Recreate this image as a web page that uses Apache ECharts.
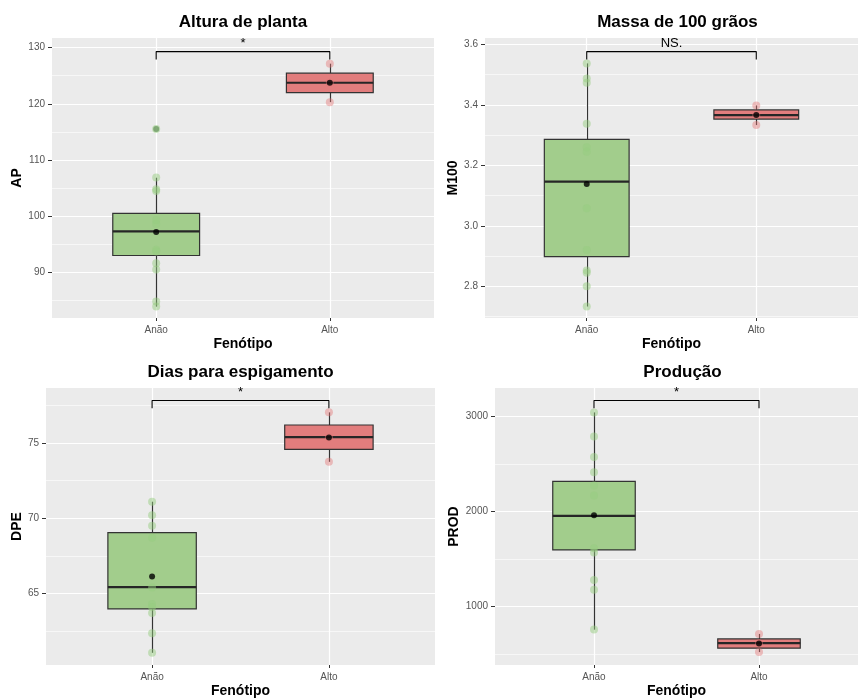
<!DOCTYPE html>
<html>
<head>
<meta charset="utf-8">
<script src="https://cdn.jsdelivr.net/npm/echarts@6/dist/echarts.min.js"></script>
<style>
  html, body { margin: 0; padding: 0; background: #ffffff; }
  #chart { width: 858px; height: 699px; }
</style>
</head>
<body>
<div id="chart"></div>
<script>
// Groups on the x axis and the shared axis title
const categories = ['Anão', 'Alto'];
const xTitle = 'Fenótipo';

// Altura de planta (AP)
const apAnao = [115.5, 106.9, 104.8, 104.5, 99.3, 98.6, 94.0, 93.7, 91.6, 90.5, 84.8, 83.9];
const apAlto = [127.15, 123.75, 120.3];
const apBox = [[83.9, 93.0, 97.3, 100.5, 106.85], [120.3, 122.0, 123.75, 125.45, 127.15]]; // low, Q1, median, Q3, high
const apMean = [97.2, 123.75];
const apOutAnao = [115.5];
const apOutAlto = [];
const apBracket = [127.9, 129.3]; // tip, top
const apSig = '*';
const apTicks = [90, 100, 110, 120, 130];
const apMinor = [85, 95, 105, 115, 125];

// Massa de 100 grãos (M100)
const m100Anao = [3.537, 3.487, 3.473, 3.337, 3.26, 3.245, 3.058, 2.92, 2.852, 2.845, 2.80, 2.733];
const m100Alto = [3.398, 3.366, 3.333];
const m100Box = [[2.733, 2.898, 3.146, 3.286, 3.537], [3.333, 3.353, 3.366, 3.383, 3.398]];
const m100Mean = [3.138, 3.366];
const m100OutAnao = [];
const m100OutAlto = [];
const m100Bracket = [3.550, 3.576];
const m100Sig = 'NS.';
const m100Ticks = [2.8, 3.0, 3.2, 3.4, 3.6];
const m100Minor = [2.7, 2.9, 3.1, 3.3, 3.5];

// Dias para espigamento (DPE)
const dpeAnao = [71.1, 70.2, 69.5, 68.7, 65.4, 64.3, 64.1, 63.7, 62.35, 61.05];
const dpeAlto = [77.04, 75.39, 73.75];
const dpeBox = [[61.05, 63.97, 65.42, 69.04, 71.1], [73.75, 74.58, 75.39, 76.2, 77.04]];
const dpeMean = [66.12, 75.37];
const dpeOutAnao = [];
const dpeOutAlto = [];
const dpeBracket = [77.32, 77.83];
const dpeSig = '*';
const dpeTicks = [65, 70, 75];
const dpeMinor = [62.5, 67.5, 72.5, 77.5];

// Produção (PROD)
const prodAnao = [3045, 2790, 2576, 2415, 2274, 2170, 1615, 1570, 1280, 1178, 760];
const prodAlto = [712, 615, 521];
const prodBox = [[757, 1597, 1955, 2319, 3045], [521, 562, 615, 660, 712]];
const prodMean = [1962, 611];
const prodOutAnao = [];
const prodOutAlto = [];
const prodBracket = [3090, 3170];
const prodSig = '*';
const prodTicks = [1000, 2000, 3000];
const prodMinor = [500, 1500, 2500];

const panels = [
  { title: 'Altura de planta', yName: 'AP', box: apBox, mean: apMean, groups: [apAnao, apAlto], outliers: [apOutAnao, apOutAlto], bracket: apBracket, sig: apSig, ticks: apTicks, minor: apMinor, decimals: 0 },
  { title: 'Massa de 100 grãos', yName: 'M100', box: m100Box, mean: m100Mean, groups: [m100Anao, m100Alto], outliers: [m100OutAnao, m100OutAlto], bracket: m100Bracket, sig: m100Sig, ticks: m100Ticks, minor: m100Minor, decimals: 1 },
  { title: 'Dias para espigamento', yName: 'DPE', box: dpeBox, mean: dpeMean, groups: [dpeAnao, dpeAlto], outliers: [dpeOutAnao, dpeOutAlto], bracket: dpeBracket, sig: dpeSig, ticks: dpeTicks, minor: dpeMinor, decimals: 0 },
  { title: 'Produção', yName: 'PROD', box: prodBox, mean: prodMean, groups: [prodAnao, prodAlto], outliers: [prodOutAnao, prodOutAlto], bracket: prodBracket, sig: prodSig, ticks: prodTicks, minor: prodMinor, decimals: 0 }
];

// Panel placement and y ranges
const layout = [
  { left: 52, top: 38, width: 382, height: 280, yMin: 81.87, yMax: 131.72, nameGap: 25 },
  { left: 485, top: 38, width: 385, height: 280, yMin: 2.695, yMax: 3.621, nameGap: 24 },
  { left: 46, top: 388, width: 389, height: 280, yMin: 60.24, yMax: 78.66, nameGap: 19 },
  { left: 495, top: 388, width: 375, height: 280, yMin: 385, yMax: 3302, nameGap: 34 }
];

const FONT = '"Liberation Sans", Arial, sans-serif';
const BOX_FILL = ['#a2cd8c', '#e27d7d'];
const POINT_FILL = ['rgba(150, 205, 128, 0.62)', 'rgba(228, 118, 118, 0.55)'];
const OUTLIER_FILL = 'rgba(90, 140, 80, 0.8)';
const LINE = '#333333';
const BOX_WIDTH = 0.5;

function renderBox(params, api) {
  const x = api.value(0);
  const lo = api.coord([x, api.value(1)]);
  const q1 = api.coord([x, api.value(2)]);
  const md = api.coord([x, api.value(3)]);
  const q3 = api.coord([x, api.value(4)]);
  const hi = api.coord([x, api.value(5)]);
  const half = api.size([BOX_WIDTH, 0])[0] / 2;
  const cx = Math.round(md[0]) + 0.5;
  return {
    type: 'group',
    children: [
      { type: 'line', shape: { x1: cx, y1: lo[1], x2: cx, y2: q1[1] }, style: { stroke: LINE, lineWidth: 1.2 } },
      { type: 'line', shape: { x1: cx, y1: q3[1], x2: cx, y2: hi[1] }, style: { stroke: LINE, lineWidth: 1.2 } },
      { type: 'rect', shape: { x: md[0] - half, y: q3[1], width: half * 2, height: q1[1] - q3[1] },
        style: { fill: BOX_FILL[params.dataIndex], stroke: LINE, lineWidth: 1.2 } },
      { type: 'line', shape: { x1: md[0] - half, y1: md[1], x2: md[0] + half, y2: md[1] },
        style: { stroke: '#262626', lineWidth: 2.2 } }
    ]
  };
}

function makeSigRenderer(text) {
  return function (params, api) {
    const p = api.coord([api.value(0), api.value(1)]);
    return {
      type: 'text',
      x: p[0],
      y: p[1] - 1.5,
      style: { text: text, fontSize: 13, fontFamily: FONT, fill: '#000', align: 'center', verticalAlign: 'bottom' }
    };
  };
}

const option = {
  animation: false,
  textStyle: { fontFamily: FONT },
  title: [],
  grid: [],
  xAxis: [],
  yAxis: [],
  series: []
};

panels.forEach((p, i) => {
  const L = layout[i];
  option.grid.push({ left: L.left, top: L.top, width: L.width, height: L.height, show: true, backgroundColor: '#ebebeb', borderWidth: 0 });
  option.title.push({
    text: p.title, left: L.left + L.width / 2, top: L.top - 24, textAlign: 'center', padding: 0,
    textStyle: { fontSize: 17, fontWeight: 'bold', color: '#000', fontFamily: FONT }
  });
  option.xAxis.push({
    gridIndex: i, type: 'value', min: 0.4, max: 2.6,
    name: xTitle, nameLocation: 'middle', nameGap: 19,
    nameTextStyle: { fontSize: 14, fontWeight: 'bold', color: '#000', fontFamily: FONT },
    axisLine: { show: false },
    axisTick: { show: true, length: 3, customValues: [1, 2], lineStyle: { color: LINE } },
    axisLabel: { customValues: [1, 2], formatter: v => categories[Math.round(v) - 1], fontSize: 10, color: '#555555', margin: 7 },
    splitLine: { show: true, lineStyle: { color: '#ffffff', width: 1.2 } }
  });
  option.yAxis.push({
    gridIndex: i, type: 'value', min: L.yMin, max: L.yMax,
    name: p.yName, nameLocation: 'middle', nameGap: L.nameGap, nameRotate: 90,
    nameTextStyle: { fontSize: 14, fontWeight: 'bold', color: '#000', fontFamily: FONT },
    axisLine: { show: false },
    axisTick: { show: true, length: 4, customValues: p.ticks, lineStyle: { color: LINE } },
    axisLabel: { customValues: p.ticks, formatter: v => v.toFixed(p.decimals), fontSize: 10, color: '#555555', margin: 7 },
    splitLine: { show: true, lineStyle: { color: '#ffffff', width: 1.2 } }
  });

  const ax = { xAxisIndex: i, yAxisIndex: i };

  option.series.push(Object.assign({
    type: 'custom', z: 2, silent: true,
    data: p.box.map((s, k) => [k + 1].concat(s)),
    encode: { x: 0, y: [1, 2, 3, 4, 5] },
    renderItem: renderBox
  }, ax));

  p.groups.forEach((vals, k) => {
    option.series.push(Object.assign({
      type: 'scatter', z: 3, silent: true, symbolSize: 8,
      itemStyle: { color: POINT_FILL[k] },
      data: vals.map(v => [k + 1, v])
    }, ax));
  });

  p.outliers.forEach((vals, k) => {
    option.series.push(Object.assign({
      type: 'scatter', z: 3, silent: true, symbolSize: 6,
      itemStyle: { color: OUTLIER_FILL },
      data: vals.map(v => [k + 1, v])
    }, ax));
  });

  option.series.push(Object.assign({
    type: 'scatter', z: 5, silent: true, symbolSize: 6,
    itemStyle: { color: '#000' },
    data: p.mean.map((v, k) => [k + 1, v])
  }, ax));

  // significance bracket, with the minor grid lines hung under it
  option.series.push(Object.assign({
    type: 'line', z: 5, silent: true, symbol: 'none',
    lineStyle: { color: '#000', width: 1.1 },
    data: [[1, p.bracket[0]], [1, p.bracket[1]], [2, p.bracket[1]], [2, p.bracket[0]]],
    markLine: {
      silent: true, z: 1, symbol: 'none', animation: false,
      label: { show: false },
      lineStyle: { color: '#ffffff', width: 0.6, type: 'solid' },
      data: p.minor.map(v => ({ yAxis: v }))
    }
  }, ax));

  option.series.push(Object.assign({
    type: 'custom', z: 6, silent: true,
    data: [[1.5, p.bracket[1]]],
    renderItem: makeSigRenderer(p.sig)
  }, ax));
});

const chart = echarts.init(document.getElementById('chart'), null, { renderer: 'canvas' });
chart.setOption(option);
</script>
</body>
</html>
